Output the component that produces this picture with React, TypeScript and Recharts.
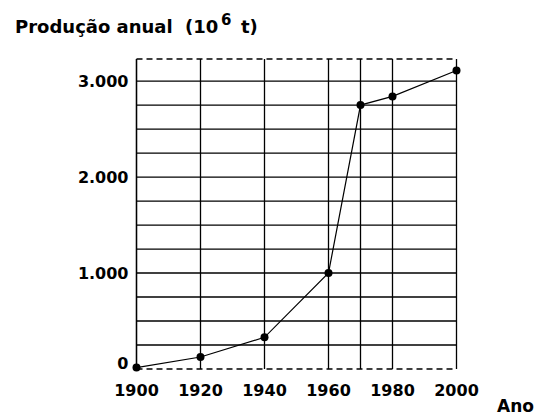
import React from 'react';
import { LineChart, Line, XAxis, YAxis, CartesianGrid, ReferenceLine } from 'recharts';

const years = [1900, 1920, 1940, 1960, 1970, 1980, 2000];
const production = [15, 125, 330, 1000, 2750, 2840, 3110];
const xTicks = [1900, 1920, 1940, 1960, 1980, 2000];
const xGridLines = [1900, 1920, 1940, 1960, 1970, 1980, 2000];
const yTicks = [0, 1000, 2000, 3000];
const yGridLines = [250, 500, 750, 1000, 1250, 1500, 1750, 2000, 2250, 2500, 2750, 3000];
const yMax = 3230;
const titleText = 'Produção anual';
const unitText = '(10';
const unitExp = '6';
const unitEnd = 't)';
const xTitle = 'Ano';

const data = years.map((year, i) => ({ year, value: production[i] }));

const FONT = '"DejaVu Sans", Verdana, sans-serif';

const fmt = (v: number) => String(v).replace(/\B(?=(\d{3})+(?!\d))/g, '.');

const YTick = (props: any) => {
  const { x, y, payload } = props;
  const lift = payload.value === 0 ? -6 : 0;
  return (
    <text x={x} y={y + lift} dy="0.355em" textAnchor="end" fill="#000" fontFamily={FONT} fontWeight="bold" fontSize={16}>
      {fmt(payload.value)}
    </text>
  );
};

export default function App() {
  return (
    <div style={{ position: 'absolute', left: 0, top: 0, width: 543, height: 418, background: '#fff' }}>
      <LineChart width={543} height={418} data={data} margin={{ top: 59, right: 86.5, bottom: 0, left: 0 }}>
        <CartesianGrid
          stroke="#000"
          strokeWidth={1.3}
          horizontalValues={yGridLines}
          verticalValues={xGridLines}
        />
        <XAxis
          dataKey="year"
          type="number"
          domain={[1900, 2000]}
          ticks={xTicks}
          interval={0}
          tickLine={false}
          axisLine={{ stroke: '#000', strokeWidth: 1.3, strokeDasharray: '6 4' }}
          height={49}
          tickSize={14}
          tickMargin={2}
          tick={{ fill: '#000', fontFamily: FONT, fontWeight: 'bold', fontSize: 16 }}
        />
        <YAxis
          type="number"
          domain={[0, yMax]}
          ticks={yTicks}
          interval={0}
          tickLine={false}
          axisLine={{ stroke: '#000', strokeWidth: 1.3 }}
          width={136.5}
          tickSize={8}
          tickMargin={0}
          tick={<YTick />}
        />
        <ReferenceLine y={yMax} stroke="#000" strokeWidth={1.3} strokeDasharray="6 4" ifOverflow="visible" />
        <Line
          type="linear"
          dataKey="value"
          stroke="#000"
          strokeWidth={1.2}
          dot={{ r: 4, fill: '#000', stroke: '#000', strokeWidth: 0 }}
          isAnimationActive={false}
        />
      </LineChart>
      <svg width={543} height={418} style={{ position: 'absolute', left: 0, top: 0, pointerEvents: 'none' }}>
        <text x={15} y={33} fontFamily={FONT} fontWeight="bold" fontSize={18} fill="#000">{titleText}</text>
        <text x={185} y={33} fontFamily={FONT} fontWeight="bold" fontSize={18} fill="#000">{unitText}</text>
        <text x={221} y={25} fontFamily={FONT} fontWeight="bold" fontSize={15} fill="#000">{unitExp}</text>
        <text x={241} y={33} fontFamily={FONT} fontWeight="bold" fontSize={18} fill="#000">{unitEnd}</text>
        <text x={497} y={412} fontFamily={FONT} fontWeight="bold" fontSize={17} fill="#000">{xTitle}</text>
      </svg>
    </div>
  );
}
